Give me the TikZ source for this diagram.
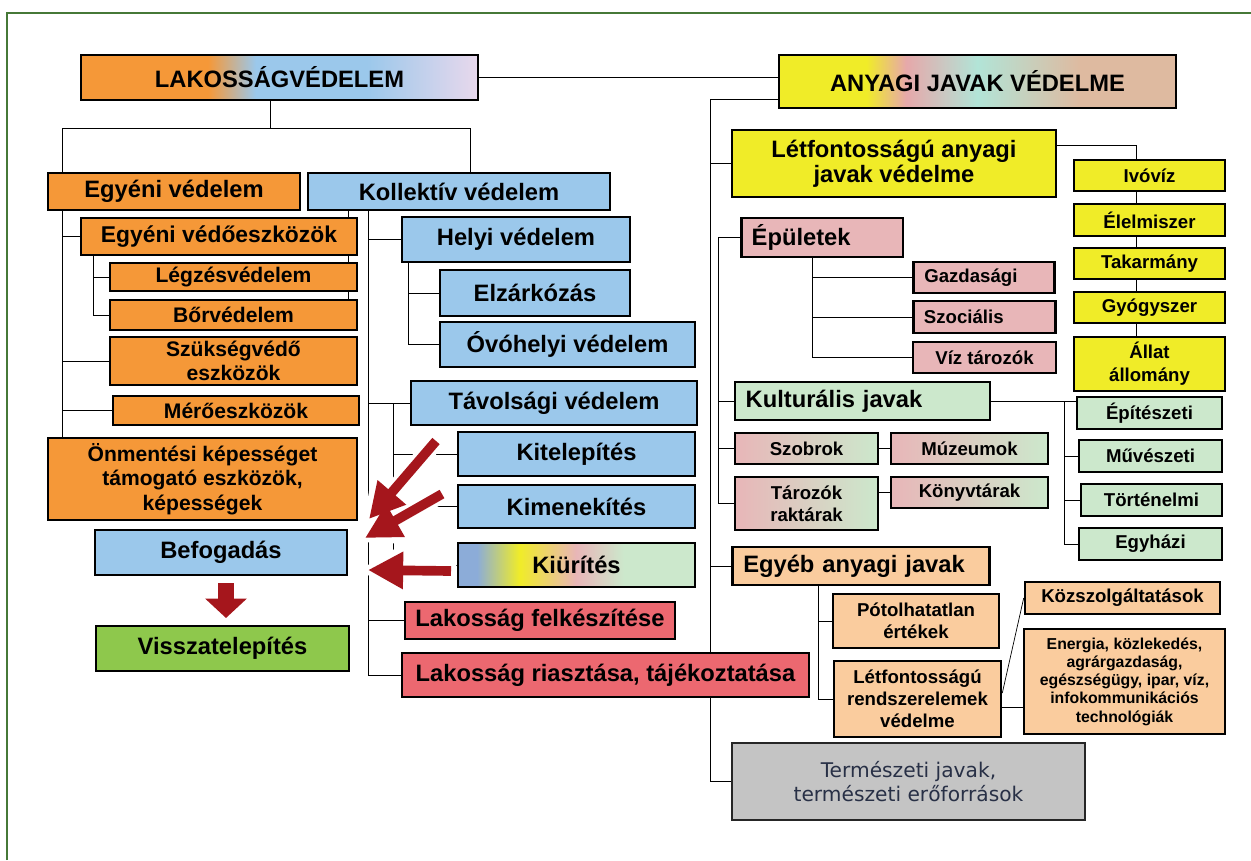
\documentclass[tikz,border=0pt]{standalone}
\usepackage{fontspec}
\setsansfont{Liberation Sans}
\newfontfamily\dejavu{DejaVu Sans}
\usetikzlibrary{arrows.meta,backgrounds}
\definecolor{lorange}{RGB}{245,152,56}
\definecolor{lblue}{RGB}{155,200,235}
\definecolor{lred}{RGB}{236,104,112}
\definecolor{lyellow}{RGB}{240,236,40}
\definecolor{lpink}{RGB}{232,182,184}
\definecolor{lgreen}{RGB}{204,232,204}
\definecolor{lpeach}{RGB}{250,204,158}
\definecolor{lgray}{RGB}{196,196,196}
\definecolor{llime}{RGB}{142,200,76}
\definecolor{llav}{RGB}{232,216,236}
\definecolor{apink}{RGB}{230,168,170}
\definecolor{acyan}{RGB}{178,228,215}
\definecolor{atan}{RGB}{222,186,160}
\definecolor{kblue}{RGB}{140,172,216}
\definecolor{arrowred}{RGB}{165,22,28}
\definecolor{framegreen}{RGB}{70,120,55}
\definecolor{slate}{RGB}{40,48,70}
\pgfdeclarehorizontalshading{lakfill}{100bp}{color(0bp)=(lorange); color(41bp)=(lorange); color(47bp)=(lblue); color(61bp)=(lblue); color(75bp)=(llav); color(100bp)=(llav)}
\pgfdeclarehorizontalshading{anyfill}{100bp}{color(0bp)=(lyellow); color(36bp)=(lyellow); color(41bp)=(apink); color(50bp)=(acyan); color(63bp)=(atan); color(100bp)=(atan)}
\pgfdeclarehorizontalshading{kiufill}{100bp}{color(0bp)=(kblue); color(29bp)=(kblue); color(38bp)=(lyellow); color(50bp)=(lpink); color(60bp)=(lgreen); color(100bp)=(lgreen)}

\begin{document}
\begin{tikzpicture}[x=0.02cm,y=-0.02cm,line width=1.6pt,
  box node/.style={rectangle,draw,line width=1.5pt,inner sep=0pt,align=center,
    font=\sffamily\bfseries\fontsize{13.5}{14.5}\selectfont},
  mid font/.style={font=\sffamily\bfseries\fontsize{12}{14}\selectfont},
  small font/.style={font=\sffamily\bfseries\fontsize{10.6}{12.5}\selectfont},
  left box/.style={align=left,text width=#1,inner xsep=6pt},
  orange node/.style={box node,fill=lorange},
  blue node/.style={box node,fill=lblue},
  red node/.style={box node,fill=lred},
  yellow node/.style={box node,fill=lyellow},
  pink node/.style={box node,fill=lpink},
  green node/.style={box node,fill=lgreen},
  peach node/.style={box node,fill=lpeach},
  mix node/.style={box node,left color=lpink,right color=lgreen,small font},
  red arrow/.style={arrowred,line width=5.5pt,-{Triangle[length=20pt,width=20pt]}},
  arrow halo/.style={white,line width=10pt,shorten >=-5pt,shorten <=-3pt,-{Triangle[length=27pt,width=31pt]}}]

  \useasboundingbox (0,0) rectangle (1251,860);
  \draw[framegreen,line width=1.2pt] (7,860) -- (7,13) -- (1251,13);

  % Lakossagvedelem
  \node[box node,shade,shading=lakfill,minimum width=7.94cm,minimum height=0.9cm] (1) at (279.5,77.5) {LAKOSSÁGVÉDELEM};
  \node[orange node,minimum width=5.04cm,minimum height=0.74cm] (3) at (174,191.5) {Egyéni védelem};
  \node[blue node,minimum width=6.04cm,minimum height=0.74cm] (4) at (459,191.5) {Kollektív védelem};
  \node[orange node,minimum width=5.52cm,minimum height=0.74cm,font=\sffamily\bfseries\fontsize{13}{14}\selectfont] (5) at (219,236.5) {Egyéni védőeszközök};
  \node[orange node,mid font,minimum width=4.94cm,minimum height=0.56cm] (6) at (233.5,277) {Légzésvédelem};
  \node[orange node,mid font,minimum width=4.94cm,minimum height=0.6cm] (7) at (233.5,315) {Bőrvédelem};
  \node[orange node,mid font,minimum width=4.94cm,minimum height=0.96cm] (8) at (233.5,361) {Szükségvédő\\eszközök};
  \node[orange node,mid font,minimum width=4.92cm,minimum height=0.58cm] (9) at (236,410.5) {Mérőeszközök};
  \node[orange node,mid font,minimum width=6.18cm,minimum height=1.64cm] (10) at (202.5,479) {Önmentési képességet\\támogató eszközök,\\képességek};
  \node[blue node,minimum width=5.04cm,minimum height=0.9cm] (11) at (221,552.5) {Befogadás};
  \node[box node,fill=llime,minimum width=5.06cm,minimum height=0.9cm] (12) at (222.5,648.5) {Visszatelepítés};
  \node[blue node,minimum width=4.56cm,minimum height=0.9cm] (13) at (516,239.5) {Helyi védelem};
  \node[blue node,minimum width=3.8cm,minimum height=0.92cm] (14) at (535,293) {Elzárkózás};
  \node[blue node,minimum width=5.1cm,minimum height=0.9cm] (15) at (567.5,344.5) {Óvóhelyi védelem};
  \node[blue node,minimum width=5.72cm,minimum height=0.88cm] (16) at (554,403) {Távolsági védelem};
  \node[blue node,minimum width=4.74cm,minimum height=0.88cm] (17) at (576.5,454) {Kitelepítés};
  \node[blue node,minimum width=4.74cm,minimum height=0.86cm] (18) at (576.5,506.5) {Kimenekítés};
  \node[box node,shade,shading=kiufill,minimum width=4.74cm,minimum height=0.88cm] (19) at (576.5,565) {Kiürítés};
  \node[red node,minimum width=5.4cm,minimum height=0.74cm] (20) at (540,620.5) {Lakosság felkészítése};
  \node[red node,minimum width=8.14cm,minimum height=0.88cm] (21) at (605.5,675) {Lakosság riasztása, tájékoztatása};

  % Anyagi javak vedelme
  \node[box node,shade,shading=anyfill,minimum width=7.94cm,minimum height=1.06cm] (2) at (977.5,81.5) {ANYAGI JAVAK VÉDELME};
  \node[yellow node,minimum width=6.48cm,minimum height=1.34cm] (22) at (894,163.5) {Létfontosságú anyagi\\javak védelme};
  \node[yellow node,small font,minimum width=3.02cm,minimum height=0.62cm] (23) at (1149.5,175.5) {Ivóvíz};
  \node[yellow node,small font,minimum width=3.02cm,minimum height=0.64cm] (24) at (1149.5,220) {Élelmiszer};
  \node[yellow node,small font,minimum width=3.02cm,minimum height=0.62cm] (25) at (1149.5,263.5) {Takarmány};
  \node[yellow node,small font,minimum width=3.02cm,minimum height=0.62cm] (26) at (1149.5,307.5) {Gyógyszer};
  \node[yellow node,small font,minimum width=3.02cm,minimum height=1.08cm,font=\sffamily\bfseries\fontsize{10.6}{13}\selectfont] (27) at (1149.5,364) {Állat\\állomány};
  \node[pink node,left box=80pt,minimum height=0.78cm] (28) at (822,237.5) {Épületek};
  \node[pink node,small font,left box=68pt,minimum height=0.62cm] (29) at (984,277.5) {Gazdasági};
  \node[pink node,small font,left box=69pt,minimum height=0.64cm] (30) at (984.5,317) {Szociális};
  \node[pink node,small font,minimum width=2.86cm,minimum height=0.62cm] (31) at (984.5,357.5) {Víz tározók};
  \node[green node,left box=133pt,minimum height=0.76cm] (32) at (862.5,401) {Kulturális javak};
  \node[green node,small font,minimum width=2.9cm,minimum height=0.64cm] (33) at (1149.5,413) {Építészeti};
  \node[green node,small font,minimum width=2.86cm,minimum height=0.64cm] (34) at (1150.5,456) {Művészeti};
  \node[green node,small font,minimum width=2.82cm,minimum height=0.64cm] (35) at (1151.5,500) {Történelmi};
  \node[green node,small font,minimum width=2.86cm,minimum height=0.64cm] (36) at (1150.5,544) {Egyházi};
  \node[mix node,minimum width=2.86cm,minimum height=0.62cm] (37) at (806.5,448.5) {Szobrok};
  \node[mix node,minimum width=3.14cm,minimum height=0.62cm] (38) at (969.5,448.5) {Múzeumok};
  \node[mix node,minimum width=2.86cm,minimum height=1.06cm] (39) at (806.5,503.5) {Tározók\\raktárak};
  \node[mix node,minimum width=3.14cm,minimum height=0.62cm] (40) at (969.5,492.5) {Könyvtárak};
  \node[peach node,left box=134pt,minimum height=0.76cm] (41) at (861,566) {Egyéb anyagi javak};
  \node[peach node,small font,minimum width=3.32cm,minimum height=1.08cm] (42) at (916,621) {Pótolhatatlan\\értékek};
  \node[peach node,small font,minimum width=3.34cm,minimum height=1.52cm] (43) at (917.5,699) {Létfontosságú\\rendszerelemek\\védelme};
  \node[peach node,small font,minimum width=3.9cm,minimum height=0.64cm] (44) at (1122.5,598) {Közszolgáltatások};
  \node[peach node,minimum width=4.02cm,minimum height=2.1cm,font=\sffamily\bfseries\fontsize{9}{10.4}\selectfont] (45) at (1124.5,681.5) {Energia, közlekedés,\\agrárgazdaság,\\egészségügy, ipar, víz,\\infokommunikációs\\technológiák};
  \node[rectangle,draw=black!85,line width=1.5pt,fill=lgray,text=slate,align=center,minimum width=7.06cm,minimum height=1.54cm,font=\dejavu\fontsize{11.5}{14}\selectfont] (46) at (908.5,781.5) {Természeti javak,\\természeti erőforrások};

  \begin{scope}[on background layer]
    \draw (1.south -| 270,0) -- (270,128);
    \draw (62,0 |- 10.north) -- (62,128) -- (470,128) -- (470,0 |- 4.north);
    \draw (62,0 |- 5.west) -- (5.west);
    \draw (62,0 |- 8.west) -- (8.west);
    \draw (62,0 |- 9.west) -- (9.west);
    \draw (93,0 |- 5.south) |- (7.west);
    \draw (93,0 |- 6.west) -- (6.west);
    \draw (348,0 |- 4.south) -- (348,300);
    \draw (368,0 |- 4.south) |- (21.west);
    \draw (368,0 |- 13.west) -- (13.west);
    \draw (368,0 |- 16.west) -- (16.west);
    \draw (368,0 |- 20.west) -- (20.west);
    \draw (408,0 |- 13.south) |- (15.west);
    \draw (408,0 |- 14.west) -- (14.west);
    \draw (393,0 |- 16.west) |- (19.west);
    \draw (393,0 |- 17.west) -- (17.west);
    \draw (393,0 |- 18.west) -- (18.west);
    % right side
    \draw (1.east) -- (1.east -| 2.west);
    \draw (2.west |- 0,99) -| (710,0 |- 46.west) -- (46.west);
    \draw (710,0 |- 22.west) -- (22.west);
    \draw (710,0 |- 41.west) -- (41.west);
    \draw (28.west) -| (718,0 |- 39.west) -- (39.west);
    \draw (718,0 |- 32.west) -- (32.west);
    \draw (718,0 |- 37.west) -- (37.west);
    \draw (812,0 |- 28.south) |- (31.west);
    \draw (812,0 |- 29.west) -- (29.west);
    \draw (812,0 |- 30.west) -- (30.west);
    \draw (22.east |- 0,145) -| (1136,0 |- 27.north);
    \draw (32.east) -- (32.east -| 33.west);
    \draw (1064,0 |- 32.east) |- (36.west);
    \draw (1064,0 |- 34.west) -- (34.west);
    \draw (1064,0 |- 35.west) -- (35.west);
    \draw (37.east) -- (38.west);
    \draw (39.east |- 40.west) -- (40.west);
    \draw (818,0 |- 41.south) |- (43.west);
    \draw (818,0 |- 42.west) -- (42.west);
    \draw (43.east |- 0,693) -- (44.west);
    \draw (43.east |- 0,707) -- (45.west |- 0,707);
  \end{scope}

  % arrows
  \coordinate (a1) at (436,441); \coordinate (b1) at (369,519);
  \coordinate (a2) at (442,494); \coordinate (b2) at (365,538);
  \coordinate (a3) at (451,571); \coordinate (b3) at (368,570);
  \coordinate (a4) at (226,583); \coordinate (b4) at (226,618);
  \draw[arrow halo] (a1) -- (b1);
  \draw[arrow halo] (a2) -- (b2);
  \draw[arrow halo] (a3) -- (b3);
  \draw[red arrow] (a1) -- (b1);
  \draw[red arrow] (a2) -- (b2);
  \draw[red arrow] (a3) -- (b3);
  \draw[red arrow,line width=9pt,-{Triangle[length=11pt,width=23pt]}] (a4) -- (b4);
\end{tikzpicture}
\end{document}
